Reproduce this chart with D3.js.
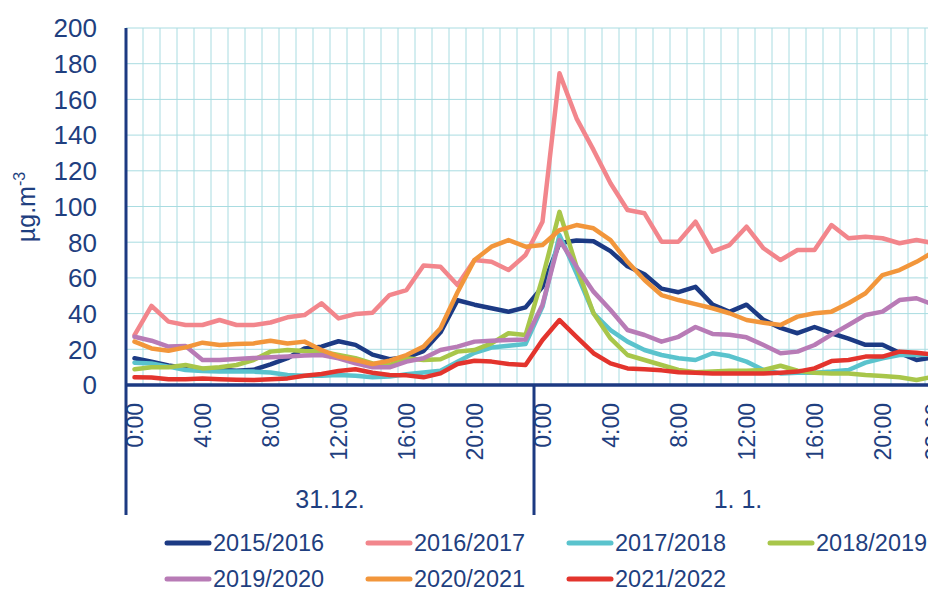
<!DOCTYPE html>
<html>
<head>
<meta charset="utf-8">
<script src="https://cdn.jsdelivr.net/npm/d3@7"></script>
<style>
  body { margin: 0; background: #fff; }
  text { font-family: "Liberation Sans", Arial, sans-serif; fill: #1f3f80; }
</style>
</head>
<body>
<svg id="chart" width="928" height="589"></svg>
<script>
// two days, hourly values
const days = ["31.12.", "1. 1."];
const hours = d3.range(24).map((h) => h + ":00");
const tickHours = ["0:00", "4:00", "8:00", "12:00", "16:00", "20:00"];
const seasons = ["2015/2016", "2016/2017", "2017/2018", "2018/2019", "2019/2020", "2020/2021", "2021/2022"];

const v2015 = [15, 13, 11, 9.5, 9, 8.5, 8, 8.5, 11.5, 15, 20.5, 21.5, 24.5, 22.5, 17, 14.5, 15.5, 19, 29.5, 47.5, 45, 43, 41, 43.5,
  55, 79.5, 81, 80.5, 75, 66.5, 62, 54, 52, 55, 45, 41, 45, 36.5, 32, 29, 32.5, 29, 26, 22.5, 22.5, 18, 14, 15.5];
const v2016 = [28, 44.3, 35.5, 33.6, 33.6, 36.4, 33.6, 33.6, 35, 37.9, 39.2, 45.8, 37.3, 39.8, 40.5, 50.4, 53.2, 67, 66.3, 56, 70, 69, 64.4, 72.8,
  91.5, 174.6, 149.4, 131.7, 113, 98, 96.2, 80.3, 80.3, 91.5, 74.7, 78.4, 88.7, 76.6, 70, 75.6, 75.6, 89.6, 82.2, 83, 82.2, 79.4, 81.2, 79.5];
const v2017 = [12.5, 12.1, 10.3, 8.4, 7.8, 7.5, 7.5, 7.5, 7, 5.6, 5.2, 5.2, 5.6, 5.2, 4.3, 4.7, 6, 7, 8, 13, 18, 21, 22, 23,
  43.9, 84, 62.6, 40.2, 30.8, 24.3, 19.6, 16.8, 15, 14, 17.8, 16.2, 13.1, 8.4, 6.5, 6.9, 6.9, 7.5, 8.4, 12.5, 15, 16.8, 16.8, 17];
const v2018 = [8.8, 9.9, 9.9, 11.2, 9.3, 9.9, 11.2, 14, 18.7, 19.6, 19, 18.7, 16.8, 15, 12.1, 11.2, 15, 14, 14.4, 18.7, 19.6, 23.3, 29, 28,
  60, 97, 66.3, 40.2, 26.1, 16.8, 14, 11.2, 8.4, 7.2, 7.5, 8, 8, 8.4, 10.8, 8, 6.9, 6.5, 6.5, 5.6, 5, 4.3, 2.8, 4.6];
const v2019 = [27, 24.8, 21.5, 21.8, 14, 14, 14.6, 15.1, 15.5, 15.9, 16.5, 16.8, 15, 12.1, 9.9, 9.9, 13.1, 15, 19.6, 21.5, 24.3, 24.8, 25.2, 25.5,
  45, 81.2, 66.3, 52.3, 42, 30.8, 28, 24.3, 27, 32.5, 28.6, 28.2, 26.7, 22.4, 17.8, 18.7, 22.4, 28.2, 33.6, 39.2, 41.1, 47.6, 48.6, 45];
const v2020 = [24.3, 20.5, 19.2, 21.1, 23.7, 22.4, 23, 23.3, 24.8, 23.3, 24.3, 19.6, 15.9, 14, 11.8, 13.6, 16.8, 21.5, 31.8, 52, 70, 77.5, 81.2, 77.5,
  78.4, 86.8, 89.6, 87.8, 81.2, 69, 58.8, 50.4, 47.6, 45.3, 43, 40.2, 36.4, 34.9, 33.6, 38.3, 40.2, 41.1, 45.8, 51.4, 61.6, 64.4, 69, 74.5];
const v2021 = [4.3, 4.2, 3.2, 3.2, 3.6, 3.2, 3, 2.8, 3.2, 3.7, 5.2, 6.2, 7.8, 8.8, 6.9, 5.6, 5.4, 4.3, 6.5, 11.8, 13.6, 13.1, 11.8, 11.2,
  25.2, 36.4, 27, 17.8, 12.1, 9.3, 8.8, 8.2, 7.2, 6.9, 6.5, 6.5, 6.5, 6.5, 6.9, 7.5, 9.3, 13.4, 14, 15.9, 15.9, 18.7, 18.1, 17];

const seriesValues = [v2015, v2016, v2017, v2018, v2019, v2020, v2021];
const colors = ["#1c3a84", "#f2868c", "#5ac3cd", "#a8c64a", "#b87bb6", "#f2963b", "#e3342d"];
const navy = "#1c3a82";

const svg = d3.select("#chart");

// categories: day index * 24 + hour
const categories = days.flatMap((d) => hours.map((h) => d + " " + h));

const x = d3.scaleBand().domain(d3.range(categories.length)).range([126, 942]);
const y = d3.scaleLinear().domain([0, 200]).range([385, 28]);
const cx = (i) => x(i) + x.bandwidth() / 2;

// grid
const grid = svg.append("g").attr("stroke", "#a9dce1").attr("stroke-width", 1);
grid
  .selectAll("line.v")
  .data(d3.range(1, categories.length))
  .join("line")
  .attr("class", "v")
  .attr("x1", (i) => x(i))
  .attr("x2", (i) => x(i))
  .attr("y1", y(200))
  .attr("y2", y(0));
grid
  .selectAll("line.h")
  .data(y.ticks(10).filter((t) => t > 0))
  .join("line")
  .attr("class", "h")
  .attr("x1", 126)
  .attr("x2", 942)
  .attr("y1", (d) => y(d))
  .attr("y2", (d) => y(d));

// y tick labels
svg
  .append("g")
  .selectAll("text")
  .data(y.ticks(10))
  .join("text")
  .attr("x", 97)
  .attr("y", (d) => y(d))
  .attr("dy", "0.36em")
  .attr("text-anchor", "end")
  .attr("font-size", 26)
  .text((d) => d);

// y title
const yTitle = svg
  .append("text")
  .attr("transform", "translate(35,207) rotate(-90)")
  .attr("text-anchor", "middle")
  .attr("font-size", 25);
yTitle.append("tspan").text("µg.m");
yTitle.append("tspan").attr("dy", -10).attr("font-size", 16).text("-3");

// lines
const line = d3
  .line()
  .x((d, i) => cx(i))
  .y((d) => y(d));

svg
  .append("g")
  .attr("fill", "none")
  .attr("stroke-width", 4.5)
  .attr("stroke-linejoin", "round")
  .attr("stroke-linecap", "round")
  .selectAll("path")
  .data(seriesValues)
  .join("path")
  .attr("stroke", (d, i) => colors[i])
  .attr("d", line);

// axes lines
const axes = svg.append("g").attr("stroke", navy);
axes.append("line").attr("x1", 126).attr("x2", 942).attr("y1", y(0)).attr("y2", y(0)).attr("stroke-width", 3.5);
axes
  .selectAll("line.sep")
  .data([0, 24])
  .join("line")
  .attr("class", "sep")
  .attr("x1", (i) => x(i))
  .attr("x2", (i) => x(i))
  .attr("y1", (i) => (i === 0 ? y(200) : y(0)))
  .attr("y2", 515)
  .attr("stroke-width", 3);

// hour labels, every 4 hours (last one is cut by the picture edge)
const ticks = [];
days.forEach((d, di) => {
  tickHours.forEach((h) => ticks.push({ i: di * 24 + hours.indexOf(h), label: h }));
});
ticks.push({ i: 47, label: "23:00" });

svg
  .append("g")
  .selectAll("text")
  .data(ticks)
  .join("text")
  .attr("transform", (d) => `translate(${cx(d.i) + 8},403) rotate(-90)`)
  .attr("text-anchor", "end")
  .attr("font-size", 23)
  .text((d) => d.label);

// day labels
svg
  .append("g")
  .selectAll("text")
  .data(days)
  .join("text")
  .attr("x", (d, di) => (x(di * 24) + x(di * 24 + 23) + x.bandwidth()) / 2)
  .attr("y", 508)
  .attr("text-anchor", "middle")
  .attr("font-size", 25)
  .text((d) => d);

// legend
const legend = svg
  .append("g")
  .selectAll("g")
  .data(seasons)
  .join("g")
  .attr("transform", (d, i) => `translate(${165 + 201 * (i % 4)},${543 + 36 * Math.floor(i / 4)})`);

legend
  .append("line")
  .attr("x1", 2)
  .attr("x2", 44)
  .attr("stroke", (d, i) => colors[i])
  .attr("stroke-width", 5)
  .attr("stroke-linecap", "round");

legend
  .append("text")
  .attr("x", 48)
  .attr("dy", "0.36em")
  .attr("font-size", 23.5)
  .text((d) => d);
</script>
</body>
</html>
